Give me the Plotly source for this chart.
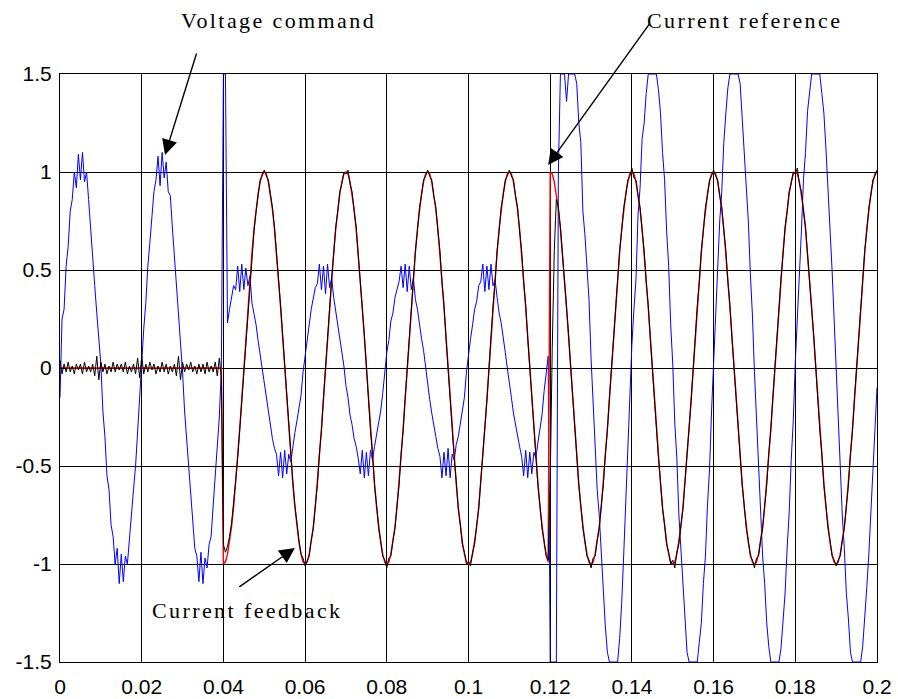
import plotly.graph_objects as go

# ---------------- data ----------------
SAMPLE_DT = 0.0005          # s, sample spacing of all three records
N_SAMPLES = 401             # 0 .. 0.2 s
time_s = [round(i * SAMPLE_DT, 4) for i in range(N_SAMPLES)]

# Voltage command (blue)
volt_0_40ms = [
    -0.15, 0.25, 0.30, 0.52, 0.62, 0.80, 0.86, 1.00, 0.92, 1.09,
    0.96, 1.10, 0.95, 1.00, 0.86, 0.70, 0.55, 0.42, 0.28, 0.17,
    0.02, -0.22, -0.35, -0.55, -0.62, -0.80, -0.86, -1.00, -0.92, -1.10,
    -0.95, -1.09, -0.96, -1.00, -0.86, -0.76, -0.62, -0.50, -0.32, -0.18,
    0.02, 0.20, 0.33, 0.52, 0.64, 0.76, 0.90, 0.96, 1.08, 0.93,
    1.10, 0.97, 1.05, 0.90, 0.88, 0.72, 0.58, 0.45, 0.30, 0.14,
    -0.02, -0.22, -0.36, -0.52, -0.66, -0.78, -0.92, -0.96, -1.09, -0.94,
    -1.10, -0.97, -1.02, -0.90, -0.86, -0.70, -0.55, -0.40, -0.25, 0.00,
]
volt_40_120ms = [
    1.50, 1.50, 0.23, 0.30, 0.36, 0.42, 0.40, 0.52, 0.39, 0.53,
    0.40, 0.51, 0.42, 0.47, 0.33, 0.28, 0.22, 0.14, 0.07, -0.01,
    -0.08, -0.16, -0.22, -0.30, -0.36, -0.41, -0.44, -0.55, -0.43, -0.56,
    -0.42, -0.54, -0.44, -0.48, -0.39, -0.33, -0.27, -0.21, -0.14, -0.02,
    0.07, 0.16, 0.22, 0.30, 0.35, 0.41, 0.43, 0.53, 0.40, 0.52,
    0.38, 0.53, 0.41, 0.46, 0.36, 0.29, 0.21, 0.16, 0.07, 0.01,
    -0.09, -0.15, -0.24, -0.29, -0.36, -0.40, -0.46, -0.54, -0.42, -0.56,
    -0.43, -0.55, -0.42, -0.47, -0.40, -0.34, -0.28, -0.22, -0.13, -0.01,
    0.08, 0.14, 0.24, 0.28, 0.36, 0.40, 0.44, 0.52, 0.41, 0.53,
    0.39, 0.52, 0.40, 0.46, 0.35, 0.30, 0.22, 0.15, 0.09, 0.00,
    -0.07, -0.16, -0.23, -0.30, -0.35, -0.41, -0.45, -0.56, -0.43, -0.55,
    -0.41, -0.56, -0.44, -0.47, -0.39, -0.35, -0.28, -0.21, -0.15, -0.02,
    0.08, 0.15, 0.22, 0.30, 0.34, 0.42, 0.44, 0.53, 0.39, 0.52,
    0.40, 0.53, 0.42, 0.45, 0.36, 0.28, 0.23, 0.14, 0.08, 0.00,
    -0.09, -0.15, -0.23, -0.29, -0.36, -0.40, -0.45, -0.55, -0.42, -0.56,
    -0.43, -0.54, -0.43, -0.46, -0.38, -0.30, -0.24, -0.12, -0.02, 0.06,
]
volt_120_200ms = [
    -1.50, -1.50, -1.50, -1.50, 1.00, 1.50, 1.50, 1.50, 1.36, 1.50,
    1.50, 1.50, 1.50, 1.45, 1.25, 1.15, 0.80, 0.68, 0.52, 0.35,
    0.05, -0.20, -0.40, -0.62, -0.75, -0.95, -1.15, -1.32, -1.45, -1.50,
    -1.50, -1.50, -1.50, -1.50, -1.38, -1.20, -0.95, -0.68, -0.42, -0.15,
    0.12, 0.30, 0.45, 0.78, 0.92, 1.17, 1.25, 1.40, 1.50, 1.50,
    1.50, 1.50, 1.50, 1.42, 1.30, 1.10, 0.96, 0.70, 0.52, 0.22,
    0.02, -0.28, -0.46, -0.75, -0.92, -1.15, -1.27, -1.45, -1.50, -1.50,
    -1.50, -1.50, -1.50, -1.40, -1.30, -1.10, -0.96, -0.70, -0.52, -0.22,
    0.02, 0.28, 0.46, 0.75, 0.90, 1.15, 1.30, 1.43, 1.50, 1.50,
    1.50, 1.50, 1.50, 1.45, 1.28, 1.15, 0.92, 0.75, 0.48, 0.27,
    -0.02, -0.25, -0.50, -0.72, -0.96, -1.10, -1.30, -1.42, -1.50, -1.50,
    -1.50, -1.50, -1.50, -1.43, -1.27, -1.15, -0.92, -0.74, -0.47, -0.27,
    0.03, 0.23, 0.50, 0.70, 0.96, 1.10, 1.31, 1.40, 1.50, 1.50,
    1.50, 1.50, 1.50, 1.40, 1.30, 1.12, 0.93, 0.72, 0.50, 0.25,
    0.00, -0.28, -0.48, -0.75, -0.92, -1.15, -1.28, -1.45, -1.50, -1.50,
    -1.50, -1.50, -1.50, -1.42, -1.28, -1.12, -0.95, -0.72, -0.50, -0.30,
    -0.10,
]

# Current reference (red)
ref_0_40ms = [
    0, 0, 0, 0, 0, 0, 0, 0, 0, 0, 0, 0, 0, 0, 0, 0, 0, 0, 0, 0,
    0, 0, 0, 0, 0, 0, 0, 0, 0, 0, 0, 0, 0, 0, 0, 0, 0, 0, 0, 0,
    0, 0, 0, 0, 0, 0, 0, 0, 0, 0, 0, 0, 0, 0, 0, 0, 0, 0, 0, 0,
    0, 0, 0, 0, 0, 0, 0, 0, 0, 0, 0, 0, 0, 0, 0, 0, 0, 0, 0, 0,
]
ref_40_120ms = [
    -1.00, -0.99, -0.95, -0.89, -0.81, -0.71, -0.59, -0.45, -0.31, -0.16,
    0.00, 0.16, 0.31, 0.45, 0.59, 0.71, 0.81, 0.89, 0.95, 0.99,
    1.00, 0.99, 0.95, 0.89, 0.81, 0.71, 0.59, 0.45, 0.31, 0.16,
    0.00, -0.16, -0.31, -0.45, -0.59, -0.71, -0.81, -0.89, -0.95, -0.99,
    -1.00, -0.99, -0.95, -0.89, -0.81, -0.71, -0.59, -0.45, -0.31, -0.16,
    0.00, 0.16, 0.31, 0.45, 0.59, 0.71, 0.81, 0.89, 0.95, 0.99,
    1.00, 0.99, 0.95, 0.89, 0.81, 0.71, 0.59, 0.45, 0.31, 0.16,
    0.00, -0.16, -0.31, -0.45, -0.59, -0.71, -0.81, -0.89, -0.95, -0.99,
    -1.00, -0.99, -0.95, -0.89, -0.81, -0.71, -0.59, -0.45, -0.31, -0.16,
    0.00, 0.16, 0.31, 0.45, 0.59, 0.71, 0.81, 0.89, 0.95, 0.99,
    1.00, 0.99, 0.95, 0.89, 0.81, 0.71, 0.59, 0.45, 0.31, 0.16,
    0.00, -0.16, -0.31, -0.45, -0.59, -0.71, -0.81, -0.89, -0.95, -0.99,
    -1.00, -0.99, -0.95, -0.89, -0.81, -0.71, -0.59, -0.45, -0.31, -0.16,
    0.00, 0.16, 0.31, 0.45, 0.59, 0.71, 0.81, 0.89, 0.95, 0.99,
    1.00, 0.99, 0.95, 0.89, 0.81, 0.71, 0.59, 0.45, 0.31, 0.16,
    0.00, -0.16, -0.31, -0.45, -0.59, -0.71, -0.81, -0.89, -0.95, -0.99,
]
ref_120_200ms = [
    1.00, 0.99, 0.95, 0.89, 0.81, 0.71, 0.59, 0.45, 0.31, 0.16,
    0.00, -0.16, -0.31, -0.45, -0.59, -0.71, -0.81, -0.89, -0.95, -0.99,
    -1.00, -0.99, -0.95, -0.89, -0.81, -0.71, -0.59, -0.45, -0.31, -0.16,
    0.00, 0.16, 0.31, 0.45, 0.59, 0.71, 0.81, 0.89, 0.95, 0.99,
    1.00, 0.99, 0.95, 0.89, 0.81, 0.71, 0.59, 0.45, 0.31, 0.16,
    0.00, -0.16, -0.31, -0.45, -0.59, -0.71, -0.81, -0.89, -0.95, -0.99,
    -1.00, -0.99, -0.95, -0.89, -0.81, -0.71, -0.59, -0.45, -0.31, -0.16,
    0.00, 0.16, 0.31, 0.45, 0.59, 0.71, 0.81, 0.89, 0.95, 0.99,
    1.00, 0.99, 0.95, 0.89, 0.81, 0.71, 0.59, 0.45, 0.31, 0.16,
    0.00, -0.16, -0.31, -0.45, -0.59, -0.71, -0.81, -0.89, -0.95, -0.99,
    -1.00, -0.99, -0.95, -0.89, -0.81, -0.71, -0.59, -0.45, -0.31, -0.16,
    0.00, 0.16, 0.31, 0.45, 0.59, 0.71, 0.81, 0.89, 0.95, 0.99,
    1.00, 0.99, 0.95, 0.89, 0.81, 0.71, 0.59, 0.45, 0.31, 0.16,
    0.00, -0.16, -0.31, -0.45, -0.59, -0.71, -0.81, -0.89, -0.95, -0.99,
    -1.00, -0.99, -0.95, -0.89, -0.81, -0.71, -0.59, -0.45, -0.31, -0.16,
    0.00, 0.16, 0.31, 0.45, 0.59, 0.71, 0.81, 0.89, 0.95, 0.99,
    1.00,
]

# Current feedback (black)
fb_0_40ms = [
    0.04, -0.03, 0.02, -0.02, 0.03, -0.02, 0.01, -0.03, 0.02, -0.01,
    0.02, -0.03, 0.03, -0.02, 0.01, -0.02, 0.02, -0.04, 0.06, -0.06,
    0.03, -0.02, 0.02, -0.03, 0.01, -0.02, 0.03, -0.02, 0.02, -0.01,
    0.02, -0.02, 0.03, -0.03, 0.01, -0.02, 0.02, -0.03, 0.05, -0.05,
    0.06, -0.03, 0.02, -0.02, 0.03, -0.01, 0.02, -0.03, 0.01, -0.02,
    0.03, -0.02, 0.02, -0.03, 0.01, -0.02, 0.02, -0.04, 0.06, -0.06,
    0.03, -0.02, 0.02, -0.01, 0.03, -0.02, 0.01, -0.03, 0.02, -0.02,
    0.02, -0.03, 0.03, -0.02, 0.01, -0.02, 0.03, -0.04, 0.05, -0.05,
]
fb_40_120ms = [
    -0.90, -0.94, -0.91, -0.86, -0.79, -0.70, -0.58, -0.46, -0.31, -0.17,
    -0.01, 0.15, 0.30, 0.44, 0.58, 0.70, 0.80, 0.88, 0.96, 0.98,
    1.01, 0.98, 0.96, 0.89, 0.82, 0.72, 0.60, 0.47, 0.32, 0.17,
    0.01, -0.15, -0.30, -0.44, -0.58, -0.70, -0.80, -0.88, -0.95, -0.97,
    -1.01, -0.98, -0.96, -0.88, -0.82, -0.70, -0.60, -0.44, -0.32, -0.15,
    0.01, 0.17, 0.30, 0.46, 0.58, 0.72, 0.80, 0.90, 0.94, 1.00,
    0.99, 1.01, 0.94, 0.90, 0.80, 0.72, 0.58, 0.46, 0.30, 0.17,
    -0.01, -0.15, -0.32, -0.44, -0.60, -0.70, -0.82, -0.88, -0.96, -0.98,
    -1.02, -0.97, -0.96, -0.88, -0.82, -0.70, -0.60, -0.44, -0.32, -0.15,
    0.01, 0.15, 0.32, 0.44, 0.60, 0.70, 0.82, 0.88, 0.96, 0.98,
    1.01, 0.98, 0.96, 0.88, 0.82, 0.70, 0.60, 0.44, 0.32, 0.15,
    -0.01, -0.17, -0.30, -0.46, -0.58, -0.72, -0.80, -0.90, -0.94, -1.00,
    -0.99, -1.01, -0.94, -0.90, -0.80, -0.72, -0.58, -0.46, -0.30, -0.17,
    0.01, 0.15, 0.32, 0.44, 0.60, 0.70, 0.82, 0.88, 0.96, 0.98,
    1.01, 0.98, 0.96, 0.88, 0.82, 0.70, 0.60, 0.44, 0.32, 0.15,
    -0.01, -0.15, -0.32, -0.44, -0.60, -0.70, -0.82, -0.88, -0.96, -0.98,
]
fb_120_200ms = [
    -0.58, 0.10, 0.60, 0.86, 0.82, 0.72, 0.59, 0.46, 0.30, 0.17,
    0.01, -0.15, -0.32, -0.44, -0.60, -0.70, -0.82, -0.88, -0.96, -0.98,
    -1.02, -0.97, -0.96, -0.88, -0.82, -0.70, -0.60, -0.44, -0.32, -0.15,
    0.01, 0.15, 0.32, 0.44, 0.60, 0.70, 0.82, 0.88, 0.96, 0.98,
    1.02, 0.97, 0.96, 0.88, 0.82, 0.70, 0.60, 0.44, 0.32, 0.15,
    -0.01, -0.17, -0.30, -0.46, -0.58, -0.72, -0.80, -0.90, -0.94, -1.00,
    -0.98, -1.02, -0.94, -0.90, -0.80, -0.72, -0.58, -0.46, -0.30, -0.17,
    0.01, 0.15, 0.32, 0.44, 0.60, 0.70, 0.82, 0.88, 0.96, 0.98,
    1.01, 0.98, 0.96, 0.88, 0.82, 0.70, 0.60, 0.44, 0.32, 0.15,
    -0.01, -0.15, -0.32, -0.44, -0.60, -0.70, -0.82, -0.88, -0.96, -0.98,
    -1.02, -0.97, -0.96, -0.88, -0.82, -0.70, -0.60, -0.44, -0.32, -0.15,
    0.01, 0.17, 0.30, 0.46, 0.58, 0.72, 0.80, 0.90, 0.94, 1.00,
    0.99, 1.02, 0.94, 0.90, 0.80, 0.72, 0.58, 0.46, 0.30, 0.17,
    -0.01, -0.15, -0.32, -0.44, -0.60, -0.70, -0.82, -0.88, -0.96, -0.98,
    -1.01, -0.98, -0.96, -0.88, -0.82, -0.70, -0.60, -0.44, -0.32, -0.15,
    0.01, 0.15, 0.32, 0.44, 0.60, 0.70, 0.82, 0.88, 0.96, 0.98,
    1.01,
]

x_tick_vals = [0, 0.02, 0.04, 0.06, 0.08, 0.1, 0.12, 0.14, 0.16, 0.18, 0.2]
x_tick_text = ["0", "0.02", "0.04", "0.06", "0.08", "0.1", "0.12", "0.14", "0.16", "0.18", "0.2"]
y_tick_vals = [-1.5, -1, -0.5, 0, 0.5, 1, 1.5]
y_tick_text = ["-1.5", "-1", "-0.5", "0", "0.5", "1", "1.5"]

voltage_command = volt_0_40ms + volt_40_120ms + volt_120_200ms
current_reference = ref_0_40ms + ref_40_120ms + ref_120_200ms
current_feedback = fb_0_40ms + fb_40_120ms + fb_120_200ms
assert len(voltage_command) == N_SAMPLES, len(voltage_command)
assert len(current_reference) == N_SAMPLES, len(current_reference)
assert len(current_feedback) == N_SAMPLES, len(current_feedback)

# ---------------- figure ----------------
fig = go.Figure()
fig.add_trace(go.Scatter(x=time_s, y=voltage_command, mode="lines",
                         line=dict(color="#0000FF", width=1), name="Voltage command"))
fig.add_trace(go.Scatter(x=time_s, y=current_reference, mode="lines",
                         line=dict(color="#FF0000", width=1.4), name="Current reference"))
fig.add_trace(go.Scatter(x=time_s, y=current_feedback, mode="lines",
                         line=dict(color="#000000", width=1), name="Current feedback"))

axis_common = dict(showgrid=True, gridcolor="#000000", gridwidth=1, zeroline=False,
                   showline=True, linecolor="#000000", linewidth=1, mirror="ticks",
                   ticks="inside", ticklen=7, tickcolor="#000000", automargin=False,
                   tickfont=dict(family="Liberation Sans, Arial", size=21, color="#000000"))

fig.update_xaxes(range=[0, 0.2], tickvals=x_tick_vals, ticktext=x_tick_text,
                 ticklabelstandoff=6, **axis_common)
fig.update_yaxes(range=[-1.5, 1.5], tickvals=y_tick_vals, ticktext=y_tick_text,
                 ticklabelstandoff=3, **axis_common)

serif = dict(family="Liberation Serif, Times New Roman", size=22, color="#000000")
spaced = '<span style="letter-spacing:2.4px">{}</span>'

annotations = [
    # arrows
    dict(x=0.0257, y=1.087, xref="x", yref="y", ax=32, ay=-103, text="", showarrow=True,
         arrowhead=2, arrowsize=2.2, arrowwidth=1.4, arrowcolor="#000000", standoff=0),
    dict(x=0.1195, y=1.036, xref="x", yref="y", ax=102, ay=-142, text="", showarrow=True,
         arrowhead=2, arrowsize=2.2, arrowwidth=1.4, arrowcolor="#000000", standoff=0),
    dict(x=0.0575, y=-0.918, xref="x", yref="y", ax=-57, ay=40, text="", showarrow=True,
         arrowhead=2, arrowsize=2.2, arrowwidth=1.4, arrowcolor="#000000", standoff=0),
    # labels
    dict(x=(278 - 60) / 817, y=(662 - 20) / 588, xref="paper", yref="paper",
         xanchor="center", yanchor="middle",
         text=spaced.format("Voltage command"), showarrow=False, font=serif),
    dict(x=(744 - 60) / 817, y=(662 - 20) / 588, xref="paper", yref="paper",
         xanchor="center", yanchor="middle",
         text=spaced.format("Current reference"), showarrow=False, font=serif),
    dict(x=(247 - 60) / 817, y=(662 - 610) / 588, xref="paper", yref="paper",
         xanchor="center", yanchor="middle",
         text=spaced.format("Current feedback"), showarrow=False, font=serif),
]

fig.update_layout(width=898, height=699, margin=dict(l=60, r=21, t=74, b=37),
                  paper_bgcolor="#FFFFFF", plot_bgcolor="#FFFFFF",
                  showlegend=False, annotations=annotations)

fig.write_html("out.html", config={"displayModeBar": False},
               post_script="document.body.style.margin='0';document.body.style.padding='0';")
